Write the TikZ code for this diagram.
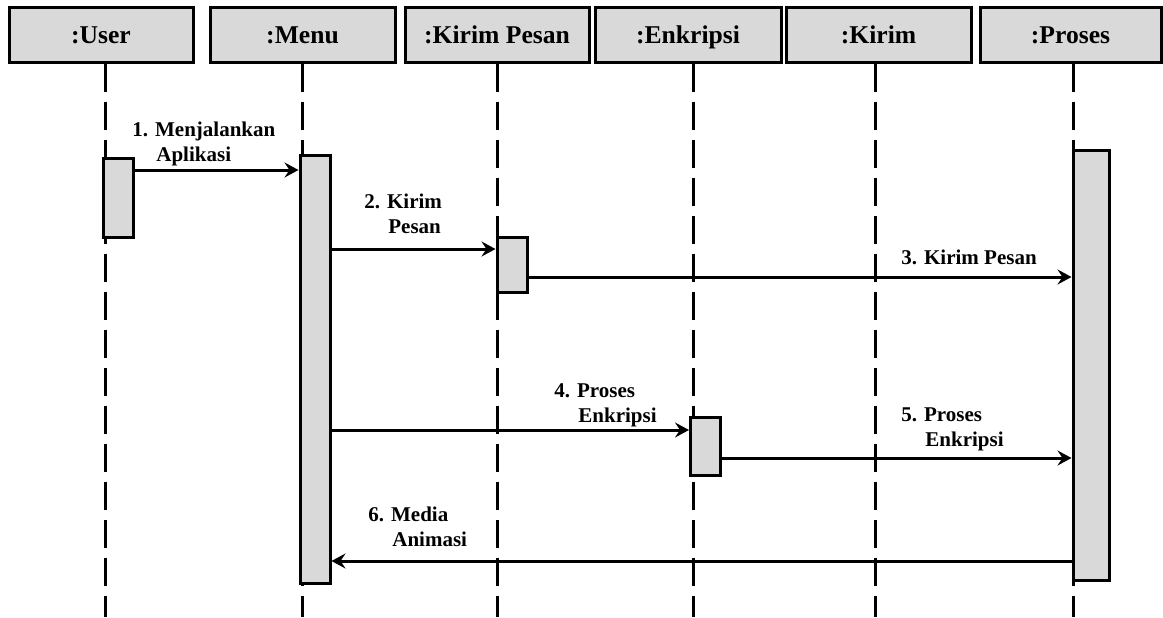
\documentclass[tikz,border=0pt]{standalone}
\usepackage{fontspec}
\setmainfont{Liberation Serif}
\usetikzlibrary{arrows.meta}

\definecolor{actgray}{HTML}{D9D9D9}
\tikzset{
  objbox/.style={draw, line width=1.5pt, fill=actgray, minimum height=27.5pt,
    inner sep=0pt, text height=8.5pt, text depth=0pt,
    font=\fontsize{12.8}{15}\selectfont\bfseries},
  actbox/.style={draw, line width=1.5pt, fill=actgray, minimum width=15pt, inner sep=0pt},
  lifeline/.style={line width=1.5pt, dash pattern=on 14pt off 5pt},
  msg/.style={line width=1.5pt, -{Stealth[length=7pt,width=7.5pt,inset=2.5pt]}},
  msgtext/.style={font=\fontsize{10.5}{12.5}\selectfont\bfseries, align=left,
    inner sep=0pt, anchor=north west}
}

\begin{document}
\begin{tikzpicture}[x=0.5pt, y=-0.5pt]
  \useasboundingbox (0,0) rectangle (1163,617);
  % Object boxes along the top.
  \node[objbox, minimum width=92pt]   (user)   at (101,34.5)   {:User};
  \node[objbox, minimum width=92.5pt] (menu)   at (302.5,34.5) {:Menu};
  \node[objbox, minimum width=92pt]   (kirimpesan) at (497,34.5) {:Kirim Pesan};
  \node[objbox, minimum width=93pt]   (enkripsi) at (688,34.5) {:Enkripsi};
  \node[objbox, minimum width=92.5pt] (kirim)  at (878.5,34.5) {:Kirim};
  \node[objbox, minimum width=90.5pt] (proses) at (1070.5,34.5) {:Proses};
  % Dashed lifelines down to the bottom edge.
  \foreach \obj/\x in {user/105, menu/302, kirimpesan/497, enkripsi/693, kirim/875, proses/1073} {
    \coordinate (\obj end) at (\x,617);
    \draw[lifeline] (\obj end |- \obj.south) -- (\obj end);
  }
  % Activation bars.
  \node[actbox, minimum height=39.5pt] (useract) at (118,197.5) {};
  \node[actbox, minimum height=214pt] (menuact) at (315,369) {};
  \node[actbox, minimum height=27.5pt] (kirimpesanact) at (512,264.5) {};
  \node[actbox, minimum height=29pt] (enkripsiact) at (705.5,446) {};
  \node[actbox, minimum width=18pt, minimum height=215pt] (prosesact) at (1091,365) {};
  % Message heights.
  \coordinate (y1) at (0,170);
  \coordinate (y2) at (0,249);
  \coordinate (y3) at (0,277);
  \coordinate (y4) at (0,430);
  \coordinate (y5) at (0,458);
  \coordinate (y6) at (0,561);
  % Messages.
  \draw[msg] (useract.east |- y1) -- (menuact.west |- y1);
  \draw[msg] (menuact.east |- y2) -- (kirimpesanact.west |- y2);
  \draw[msg] (kirimpesanact.east |- y3) -- (prosesact.west |- y3);
  \draw[msg] (menuact.east |- y4) -- (enkripsiact.west |- y4);
  \draw[msg] (enkripsiact.east |- y5) -- (prosesact.west |- y5);
  \draw[msg] (prosesact.west |- y6) -- (menuact.east |- y6);
  % Message labels.
  \node[msgtext] (lbl1) at (132,122) {1. Menjalankan\\\hspace*{12pt}Aplikasi};
  \node[msgtext] (lbl2) at (364,194) {2. Kirim\\\hspace*{12pt}Pesan};
  \node[msgtext] (lbl3) at (901,250) {3. Kirim Pesan};
  \node[msgtext] (lbl4) at (554,383) {4. Proses\\\hspace*{12pt}Enkripsi};
  \node[msgtext] (lbl5) at (901,407) {5. Proses\\\hspace*{12pt}Enkripsi};
  \node[msgtext] (lbl6) at (368,507) {6. Media\\\hspace*{12pt}Animasi};
\end{tikzpicture}
\end{document}
